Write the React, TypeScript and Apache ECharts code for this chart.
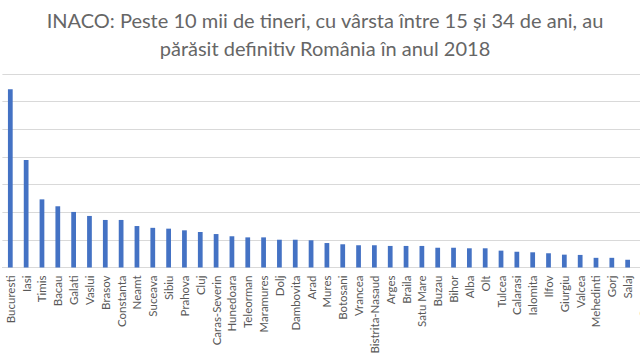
import React, { useEffect, useRef } from "react";
import * as echarts from "echarts";

const categories = [
  "Bucuresti", "Iasi", "Timis", "Bacau", "Galati", "Vaslui", "Brasov", "Constanta", "Neamt", "Suceava",
  "Sibiu", "Prahova", "Cluj", "Caras-Severin", "Hunedoara", "Teleorman", "Maramures", "Dolj", "Dambovita", "Arad",
  "Mures", "Botosani", "Vrancea", "Bistrita-Nasaud", "Arges", "Braila", "Satu Mare", "Buzau", "Bihor", "Alba",
  "Olt", "Tulcea", "Calarasi", "Ialomita", "Ilfov", "Giurgiu", "Valcea", "Mehedinti", "Gorj", "Salaj", "Covasna",
];

const values = [
  1289, 778, 493, 443, 402, 373, 344, 344, 300, 287,
  281, 269, 257, 242, 226, 218, 218, 201, 201, 197,
  177, 168, 161, 161, 156, 156, 156, 143, 143, 139,
  139, 122, 114, 110, 103, 93, 91, 70, 70, 56, 45,
];

const titleText = "INACO: Peste 10 mii de tineri, cu vârsta între 15 și 34 de ani, au\npărăsit definitiv România în anul 2018";

export default function App() {
  const ref = useRef<HTMLDivElement>(null);
  useEffect(() => {
    if (!ref.current) return;
    const chart = echarts.init(ref.current, null, { renderer: "svg" });
    chart.setOption({
      animation: false,
      backgroundColor: "#ffffff",
      title: {
        text: titleText,
        left: 320,
        top: 1,
        textAlign: "center",
        textStyle: {
          fontFamily: "Lato",
          fontSize: 20,
          fontWeight: "normal",
          color: "#666666",
          lineHeight: 28,
        },
      },
      grid: { left: 2.4, top: 74, width: 649, bottom: 92.5 },
      xAxis: {
        type: "category",
        data: categories,
        axisLine: { lineStyle: { color: "#d9d9d9" } },
        axisTick: { show: false },
        axisLabel: {
          interval: 0,
          rotate: 90,
          margin: 8,
          fontFamily: "Lato",
          fontSize: 11.5,
          color: "#595959",
        },
      },
      yAxis: {
        type: "value",
        min: 0,
        max: 1400,
        interval: 200,
        axisLabel: { show: false },
        axisLine: { show: false },
        axisTick: { show: false },
        splitLine: { lineStyle: { color: "#d9d9d9" } },
      },
      series: [
        {
          type: "bar",
          data: values,
          barWidth: "30%",
          itemStyle: { color: "#4472C4" },
        },
      ],
    });
    return () => chart.dispose();
  }, []);
  return (
    <div style={{ position: "absolute", left: 0, top: 0, width: 640, height: 360, overflow: "hidden", background: "#fff" }}>
      <div ref={ref} style={{ width: 680, height: 360 }} />
    </div>
  );
}
